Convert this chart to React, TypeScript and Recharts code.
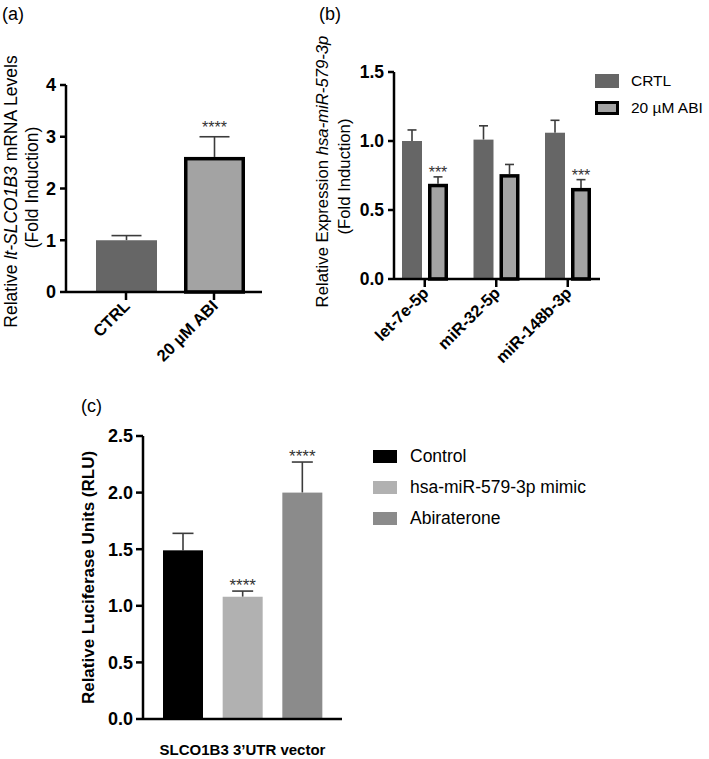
import React from 'react';
import { BarChart, Bar, XAxis, YAxis, Legend } from 'recharts';

const FONT = '"Liberation Sans", Arial, Helvetica, sans-serif';

// (a) lt-SLCO1B3 mRNA
const aGroups = ['CTRL', '20 µM ABI'];
const aMeans = [1.0, 2.61];
const aSem = [0.09, 0.39];
const aStars = ['', '****'];
const aTicks = [0, 1, 2, 3, 4];

// (b) miRNA expression
const bTargets = ['let-7e-5p', 'miR-32-5p', 'miR-148b-3p'];
const bSeries = ['CRTL', '20 µM ABI'];
const bCtrl = [1.0, 1.01, 1.06];
const bCtrlSem = [0.08, 0.1, 0.09];
const bAbi = [0.69, 0.76, 0.66];
const bAbiSem = [0.05, 0.07, 0.06];
const bAbiStars = ['***', '', '***'];
const bTicks = [0, 0.5, 1.0, 1.5];

// (c) luciferase
const cGroups = ['Control', 'hsa-miR-579-3p mimic', 'Abiraterone'];
const cMeans = [1.49, 1.08, 2.0];
const cSem = [0.15, 0.05, 0.27];
const cStars = ['', '****', '****'];
const cColors = ['#000000', '#b1b1b1', '#8b8b8b'];
const cTicks = [0, 0.5, 1.0, 1.5, 2.0, 2.5];

const aData = aGroups.map((g, i) => ({ group: g, mean: aMeans[i], sem: aSem[i], star: aStars[i] }));
const bData = bTargets.map((t, i) => ({
  target: t,
  ctrl: bCtrl[i],
  ctrlSem: bCtrlSem[i],
  abi: bAbi[i],
  abiSem: bAbiSem[i],
  abiStar: bAbiStars[i],
}));
const cData = cGroups.map((g, i) => ({ group: g, mean: cMeans[i], sem: cSem[i], star: cStars[i], color: cColors[i] }));

const axisLine = { stroke: '#000', strokeWidth: 2.5 };
const tickLine = { stroke: '#000', strokeWidth: 2.5 };

type Look = { fill: string; stroke?: string; sw?: number };

// bar with SEM whisker (upper only) and significance stars
function errShape(
  meanKey: string,
  semKey: string,
  starKey: string | null,
  look: (p: any) => Look,
  cap: number,
  starSize: number,
  starGap: number
) {
  return (props: any) => {
    const { x, y, width, height, payload } = props;
    const mean = payload[meanKey];
    const k = height / mean;
    const yErr = y - payload[semKey] * k;
    const cx = x + width / 2;
    const l = look(payload);
    const sw = l.sw || 0;
    const star = starKey ? payload[starKey] : '';
    return (
      <g>
        <line x1={cx} x2={cx} y1={y} y2={yErr} stroke="#3c3c3c" strokeWidth={1.6} />
        <line x1={cx - cap / 2} x2={cx + cap / 2} y1={yErr} y2={yErr} stroke="#3c3c3c" strokeWidth={1.6} />
        <rect
          x={x + sw / 2}
          y={y + sw / 2}
          width={width - sw}
          height={height - sw / 2}
          fill={l.fill}
          stroke={l.stroke || 'none'}
          strokeWidth={sw}
        />
        {star ? (
          <text x={cx} y={yErr - starGap} textAnchor="middle" fontSize={starSize} fontFamily={FONT} fill="#333">
            {star}
          </text>
        ) : null}
      </g>
    );
  };
}

const RotTick = (props: any) => {
  const { x, y, payload } = props;
  const ax = x + 5;
  const ay = y + 5;
  return (
    <text
      x={ax}
      y={ay}
      transform={`rotate(-45 ${ax} ${ay})`}
      textAnchor="end"
      fontSize={16.5}
      fontWeight="bold"
      fontFamily={FONT}
      fill="#000"
    >
      {payload.value}
    </text>
  );
};

const yTick = (size: number) => ({ fill: '#000', fontSize: size, fontWeight: 'bold', fontFamily: FONT });

function TwoLineLabel(props: any) {
  const { viewBox, line1, line2, b1, b2, cy1, cy2, size } = props;
  const vb = viewBox || { x: 0, y: 0, height: 0 };
  const mid = vb.y + vb.height / 2;
  const x1 = vb.x + b1;
  const x2 = vb.x + b2;
  const y1 = mid + cy1;
  const y2 = mid + cy2;
  return (
    <g fontFamily={FONT} fontSize={size} fill="#000">
      <text x={x1} y={y1} transform={`rotate(-90 ${x1} ${y1})`} textAnchor="middle">
        {line1}
      </text>
      <text x={x2} y={y2} transform={`rotate(-90 ${x2} ${y2})`} textAnchor="middle">
        {line2}
      </text>
    </g>
  );
}

const aLook = (p: any): Look => (p.group === 'CTRL' ? { fill: '#666666' } : { fill: '#a3a3a3', stroke: '#000', sw: 3.5 });

function ChartA() {
  return (
    <BarChart width={270} height={400} data={aData} margin={{ top: 85, right: 8, bottom: 0, left: 0 }}>
      <XAxis
        dataKey="group"
        height={108}
        padding={{ left: 16, right: 4 }}
        axisLine={axisLine}
        tickLine={tickLine}
        tickSize={8}
        interval={0}
        tick={<RotTick />}
      />
      <YAxis
        width={66}
        domain={[0, 4]}
        ticks={aTicks}
        axisLine={axisLine}
        tickLine={tickLine}
        tickSize={6}
        tickMargin={4}
        tick={yTick(18)}
        label={{
          content: (p: any) => (
            <TwoLineLabel
              {...p}
              line1={
                <>
                  <tspan>Relative </tspan>
                  <tspan fontStyle="italic">lt-SLCO1B3</tspan>
                  <tspan> mRNA Levels</tspan>
                </>
              }
              line2="(Fold Induction)"
              b1={17}
              b2={38}
              cy1={3}
              cy2={-1}
              size={17.5}
            />
          ),
        }}
      />
      <Bar dataKey="mean" barSize={61} isAnimationActive={false} shape={errShape('mean', 'sem', 'star', aLook, 30, 16, 4)} />
    </BarChart>
  );
}

function LegendB() {
  return (
    <div style={{ fontFamily: FONT, fontSize: 15.5, color: '#000' }}>
      {bSeries.map((s, i) => (
        <div key={s} style={{ display: 'flex', alignItems: 'center', height: 27 }}>
          <div
            style={{
              width: 24,
              height: 14,
              boxSizing: 'border-box',
              background: i === 0 ? '#666666' : '#a3a3a3',
              border: i === 0 ? 'none' : '3px solid #000',
              marginRight: 12,
            }}
          />
          <span>{s}</span>
        </div>
      ))}
    </div>
  );
}

function ChartB() {
  return (
    <BarChart
      width={439}
      height={395}
      data={bData}
      margin={{ top: 72, right: 109, bottom: 0, left: 0 }}
      barGap={6}
    >
      <XAxis
        dataKey="target"
        height={116}
        padding={{ left: -5, right: -3.5 }}
        axisLine={axisLine}
        tickLine={tickLine}
        tickSize={8}
        interval={0}
        tick={<RotTick />}
      />
      <YAxis
        width={124}
        domain={[0, 1.5]}
        ticks={bTicks}
        tickFormatter={(v: number) => v.toFixed(1)}
        axisLine={axisLine}
        tickLine={tickLine}
        tickSize={6}
        tickMargin={4}
        tick={yTick(17.5)}
        label={{
          content: (p: any) => (
            <TwoLineLabel
              {...p}
              line1={
                <>
                  <tspan>Relative Expression </tspan>
                  <tspan fontStyle="italic">hsa-miR-579-3p</tspan>
                </>
              }
              line2="(Fold Induction)"
              b1={58}
              b2={80}
              cy1={-4}
              cy2={1}
              size={16.7}
            />
          ),
        }}
      />
      <Legend
        layout="vertical"
        align="center"
        verticalAlign="middle"
        wrapperStyle={{ left: 325, top: 67, width: 114 }}
        content={() => <LegendB />}
      />
      <Bar
        dataKey="ctrl"
        name={bSeries[0]}
        fill="#666666"
        barSize={20}
        isAnimationActive={false}
        shape={errShape('ctrl', 'ctrlSem', null, () => ({ fill: '#666666' }), 9, 16, -1)}
      />
      <Bar
        dataKey="abi"
        name={bSeries[1]}
        fill="#a3a3a3"
        barSize={20}
        isAnimationActive={false}
        shape={errShape('abi', 'abiSem', 'abiStar', () => ({ fill: '#a3a3a3', stroke: '#000', sw: 3.5 }), 9, 16, -1)}
      />
    </BarChart>
  );
}

function LegendC() {
  return (
    <div style={{ fontFamily: FONT, fontSize: 17.5, color: '#000' }}>
      {cGroups.map((g, i) => (
        <div key={g} style={{ display: 'flex', alignItems: 'center', height: 31 }}>
          <div style={{ width: 24, height: 13, background: cColors[i], marginRight: 13 }} />
          <span>{g}</span>
        </div>
      ))}
    </div>
  );
}

function ChartC() {
  return (
    <BarChart width={709} height={359} data={cData} margin={{ top: 36, right: 367, bottom: 0, left: 0 }}>
      <XAxis
        dataKey="group"
        height={40}
        padding={{ left: 10, right: 10 }}
        axisLine={axisLine}
        tickLine={tickLine}
        tickSize={7}
        interval={0}
        tick={false}
        label={{
          value: 'SLCO1B3 3’UTR vector',
          position: 'insideBottom',
          offset: 4,
          fill: '#000',
          fontSize: 15,
          fontWeight: 'bold',
          fontFamily: FONT,
        }}
      />
      <YAxis
        width={143}
        domain={[0, 2.5]}
        ticks={cTicks}
        tickFormatter={(v: number) => v.toFixed(1)}
        axisLine={axisLine}
        tickLine={tickLine}
        tickSize={7}
        tickMargin={3}
        tick={yTick(18)}
        label={{
          value: 'Relative Luciferase Units (RLU)',
          angle: -90,
          position: 'insideLeft',
          offset: 88,
          fill: '#000',
          fontSize: 17,
          fontWeight: 'bold',
          fontFamily: FONT,
          style: { textAnchor: 'middle' },
        }}
      />
      <Legend
        layout="vertical"
        align="center"
        verticalAlign="middle"
        wrapperStyle={{ left: 373, top: 41, width: 300 }}
        content={() => <LegendC />}
      />
      <Bar
        dataKey="mean"
        barSize={40}
        isAnimationActive={false}
        shape={errShape('mean', 'sem', 'star', (p: any) => ({ fill: p.color }), 21, 17, 0)}
      />
    </BarChart>
  );
}

const panelLabel: React.CSSProperties = {
  position: 'absolute',
  fontFamily: FONT,
  fontSize: 18,
  color: '#000',
  lineHeight: '18px',
};

export default function App() {
  return (
    <div style={{ position: 'absolute', left: 0, top: 0, width: 709, height: 759, background: '#fff', overflow: 'hidden' }}>
      <div style={{ ...panelLabel, left: 2, top: 5 }}>(a)</div>
      <div style={{ ...panelLabel, left: 319, top: 5 }}>(b)</div>
      <div style={{ ...panelLabel, left: 81, top: 397 }}>(c)</div>
      <div style={{ position: 'absolute', left: 0, top: 0 }}>
        <ChartA />
      </div>
      <div style={{ position: 'absolute', left: 270, top: 0 }}>
        <ChartB />
      </div>
      <div style={{ position: 'absolute', left: 0, top: 400 }}>
        <ChartC />
      </div>
    </div>
  );
}
